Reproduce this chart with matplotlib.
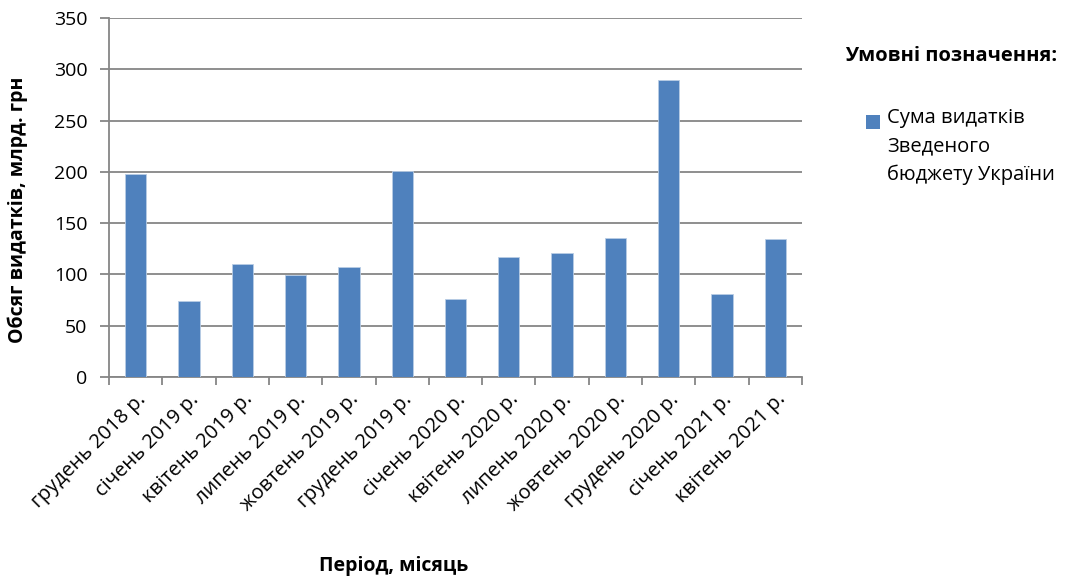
import numpy as np
import matplotlib.pyplot as plt
from matplotlib.patches import Rectangle

periods = ['грудень 2018 р.', 'січень 2019 р.', 'квітень 2019 р.', 'липень 2019 р.',
           'жовтень 2019 р.', 'грудень 2019 р.', 'січень 2020 р.', 'квітень 2020 р.',
           'липень 2020 р.', 'жовтень 2020 р.', 'грудень 2020 р.', 'січень 2021 р.',
           'квітень 2021 р.']
spending = [198, 74, 110, 99, 107, 200.5, 76, 117, 121, 136, 290, 81, 135]
series_name = 'Сума видатків\nЗведеного\nбюджету України'

plt.rcParams['font.family'] = ['Open Sans', 'DejaVu Sans']
W, H = 1068, 579
fig = plt.figure(figsize=(W/100, H/100), dpi=100)
ax = fig.add_axes([109/W, 1-377/H, (802-109)/W, (377-18)/H])

x = np.arange(len(periods))
ax.bar(x, spending, width=0.4, color='#4f81bd', edgecolor='#b9cde5', linewidth=0.6, zorder=3)

ax.set_xlim(-0.5, len(periods)-0.5)
ax.set_ylim(0, 350)
ax.set_yticks(np.arange(0, 351, 50))
ax.yaxis.grid(True, color='#868686', linewidth=1.3, zorder=0)
ax.set_xticks(x)
ax.set_xticklabels(periods, rotation=45, ha='right', rotation_mode='anchor', fontsize=14.5)
ax.set_xticks(np.arange(-0.5, len(periods), 1), minor=True)
ax.tick_params(axis='x', which='major', length=0, pad=9)
ax.tick_params(axis='x', which='minor', length=6, width=1.3, color='#868686', direction='out')
ax.tick_params(axis='y', length=6.5, width=1.3, color='#868686', labelsize=14, pad=9)
for side in ['top', 'right']:
    ax.spines[side].set_visible(False)
for side in ['left', 'bottom']:
    ax.spines[side].set_color('#868686')
    ax.spines[side].set_linewidth(1.3)

fig.text(18/W, 1-210/H, 'Обсяг видатків, млрд. грн', rotation=90, fontsize=14,
         fontweight='bold', ha='center', va='center')
fig.text(394/W, 1-566/H, 'Період, місяць', fontsize=14, fontweight='bold',
         ha='center', va='center')
fig.text(951/W, 1-56/H, 'Умовні позначення:', fontsize=14.5, fontweight='bold',
         ha='center', va='center')

# legend key
fig.patches.append(Rectangle((866/W, 1-129/H), 14/W, 14/H, transform=fig.transFigure,
                             facecolor='#4f81bd', edgecolor='none'))
fig.text(887/W, 1-108/H, series_name, fontsize=14.5, ha='left', va='top', linespacing=1.55)

fig.savefig('out.png', dpi=100)
